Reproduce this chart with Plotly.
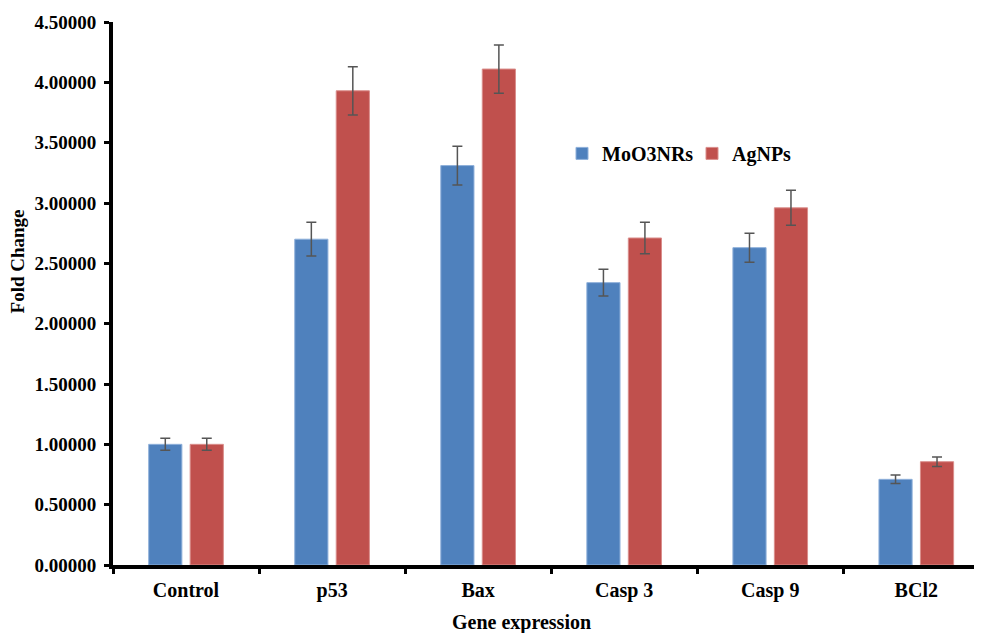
import plotly.graph_objects as go

categories = ["Control", "p53", "Bax", "Casp 3", "Casp 9", "BCl2"]
moo3_values = [1.00, 2.70, 3.31, 2.34, 2.63, 0.71]
moo3_errors = [0.05, 0.14, 0.16, 0.11, 0.12, 0.035]
agnp_values = [1.00, 3.93, 4.11, 2.71, 2.96, 0.856]
agnp_errors = [0.05, 0.20, 0.20, 0.13, 0.145, 0.04]
y_ticks = [0, 0.5, 1.0, 1.5, 2.0, 2.5, 3.0, 3.5, 4.0, 4.5]

FONT = "Liberation Serif"
err_style = dict(type="data", visible=True, color="#555555", thickness=1.5, width=5)

fig = go.Figure()
fig.add_trace(go.Bar(
    name="MoO3NRs", x=categories, y=moo3_values,
    marker=dict(color="#4F81BD", line=dict(color="#8FB0DA", width=1)),
    error_y=dict(array=moo3_errors, **err_style),
))
fig.add_trace(go.Bar(
    name="AgNPs", x=categories, y=agnp_values,
    marker=dict(color="#C0504D", line=dict(color="#DA8E8C", width=1)),
    error_y=dict(array=agnp_errors, **err_style),
))

# The page body adds an 8px offset, so the figure is sized to the visible area.
fig.update_layout(
    width=974, height=625,
    margin=dict(l=105, r=0, t=14, b=68, autoexpand=False),
    paper_bgcolor="white", plot_bgcolor="white",
    barmode="group", bargap=0.432, bargroupgap=0.2,
    font=dict(family=FONT, color="black", size=18),
    showlegend=True,
    legend=dict(
        orientation="h", x=0.5167, y=0.758, xanchor="left", yanchor="middle",
        font=dict(family=FONT, size=20, color="black", weight="bold"),
        bgcolor="rgba(0,0,0,0)", entrywidth=85, entrywidthmode="pixels",
    ),
    annotations=[
        dict(text="Fold Change", xref="paper", yref="paper", x=-0.1105, y=0.559,
             textangle=-90, showarrow=False, xanchor="center", yanchor="middle",
             font=dict(family=FONT, size=19, color="black", weight="bold")),
        dict(text="Gene expression", xref="paper", yref="paper", x=0.470, y=-0.1068,
             showarrow=False, xanchor="center", yanchor="middle",
             font=dict(family=FONT, size=20, color="black", weight="bold")),
    ],
)
fig.update_xaxes(
    range=[-0.5, 5.45], automargin=False,
    showline=True, linecolor="black", linewidth=4,
    ticks="outside", tickson="boundaries", ticklen=5, tickwidth=3, tickcolor="black",
    ticklabelstandoff=4,
    tickfont=dict(family=FONT, size=20, color="black", weight="bold"),
    showgrid=False, zeroline=False,
)
fig.update_yaxes(
    range=[0, 4.5], automargin=False,
    tickvals=y_ticks, tickformat=".5f",
    showline=True, linecolor="black", linewidth=4,
    ticks="outside", ticklen=5, tickwidth=3, tickcolor="black",
    ticklabelstandoff=4,
    tickfont=dict(family=FONT, size=19, color="black", weight="bold"),
    showgrid=False, zeroline=False,
)

fig.write_html("out.html")
